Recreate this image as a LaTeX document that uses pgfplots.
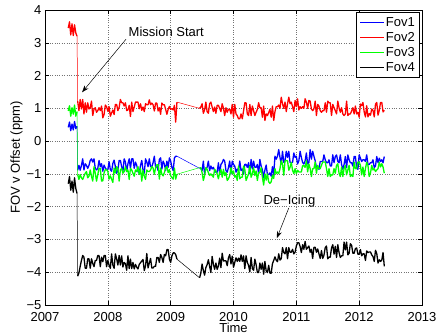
\documentclass[border=0pt]{standalone}
\usepackage{fontspec}
\setmainfont{Liberation Sans}
\usepackage{pgfplots}
\usepackage{pgfplotstable}
\pgfplotsset{compat=1.18}
\usetikzlibrary{arrows.meta}

% FOV offsets (ppm) versus time: t Fov1 Fov2 Fov3 Fov4
% (nan rows separate the pre-launch block and the 2009 data gap)
\pgfplotstableread{
t f1 f2 f3 f4
2007.37 0.42 3.45 0.92 -1.30
2007.39 0.58 3.64 1.08 -1.08
2007.41 0.32 3.24 0.76 -1.50
2007.43 0.52 3.58 1.02 -1.22
2007.45 0.34 3.22 0.82 -1.56
2007.47 0.60 3.55 1.10 -1.12
2007.49 0.38 3.30 0.76 -1.44
2007.51 0.45 3.20 0.90 -1.60
2007.515 nan nan nan nan
2007.52 -0.89 1.22 -1.02 -4.12
2007.54 -0.74 0.93 -1.17 -4.02
2007.56 -0.89 1.27 -1.02 -3.82
2007.58 -0.74 0.98 -1.12 -3.64
2007.60 -0.54 1.27 -1.17 -3.49
2007.62 -0.88 0.83 -1.07 -3.54
2007.64 -0.69 1.17 -0.98 -3.88
2007.66 -0.74 0.88 -0.93 -3.88
2007.68 -0.83 1.17 -1.12 -3.59
2007.70 -0.74 0.98 -1.07 -3.59
2007.72 -0.59 1.02 -0.88 -3.88
2007.74 -0.54 1.22 -1.07 -3.59
2007.76 -0.64 0.78 -1.22 -3.73
2007.78 -0.54 0.98 -0.78 -3.83
2007.80 -0.83 1.02 -0.98 -3.64
2007.82 -0.88 0.88 -1.22 -3.64
2007.84 -0.83 0.93 -1.02 -3.49
2007.86 -0.59 1.02 -0.83 -3.49
2007.88 -0.78 0.93 -0.83 -3.83
2007.90 -0.69 1.07 -1.22 -3.54
2007.92 -0.92 0.71 -1.21 -3.68
2007.94 -0.73 0.81 -0.97 -3.49
2007.96 -0.82 1.10 -0.87 -3.49
2007.98 -0.87 1.05 -0.87 -3.83
2008.00 -0.87 0.91 -0.92 -3.64
2008.02 -0.63 1.05 -1.16 -3.78
2008.04 -0.87 0.76 -1.06 -3.88
2008.06 -0.92 0.86 -1.16 -3.44
2008.08 -0.68 0.95 -1.26 -3.78
2008.10 -0.58 0.81 -0.82 -3.88
2008.12 -0.78 1.12 -0.97 -3.44
2008.14 -0.98 1.12 -0.78 -3.59
2008.16 -0.88 0.93 -0.83 -3.78
2008.18 -0.59 1.03 -1.22 -3.49
2008.20 -0.59 1.27 -0.88 -3.78
2008.22 -0.78 1.17 -0.83 -3.50
2008.24 -0.93 1.17 -0.98 -3.84
2008.26 -0.54 1.07 -0.93 -3.70
2008.28 -0.64 1.17 -0.78 -3.74
2008.30 -0.93 0.93 -0.93 -3.94
2008.32 -0.69 0.95 -0.88 -3.50
2008.34 -0.54 1.09 -1.17 -3.89
2008.36 -0.83 0.75 -0.83 -3.60
2008.38 -0.54 1.19 -0.88 -3.89
2008.40 -0.54 0.90 -0.98 -3.70
2008.42 -0.83 1.04 -1.07 -3.90
2008.44 -0.64 1.19 -0.88 -3.76
2008.46 -0.74 1.19 -0.93 -3.85
2008.48 -0.93 1.19 -0.78 -3.90
2008.50 -0.98 0.99 -1.02 -3.76
2008.52 -0.74 1.14 -0.83 -3.71
2008.54 -0.59 0.94 -1.22 -3.66
2008.56 -0.88 1.04 -0.88 -3.61
2008.58 -0.98 0.90 -1.07 -3.95
2008.60 -0.54 1.14 -1.17 -3.81
2008.62 -0.64 1.11 -0.88 -3.43
2008.64 -0.78 1.11 -0.93 -3.87
2008.66 -0.54 1.26 -0.93 -3.72
2008.68 -0.78 1.11 -0.88 -3.58
2008.70 -0.78 1.16 -0.78 -3.87
2008.72 -0.66 1.11 -0.82 -3.87
2008.74 -0.46 0.92 -1.01 -3.82
2008.76 -0.80 1.16 -0.82 -3.82
2008.78 -0.75 1.16 -0.72 -3.55
2008.80 -0.90 0.92 -0.72 -3.55
2008.82 -0.56 1.02 -1.16 -3.70
2008.84 -0.51 0.82 -0.82 -3.46
2008.86 -0.85 1.16 -1.01 -3.55
2008.88 -0.61 1.11 -1.06 -3.70
2008.90 -0.70 1.11 -0.96 -3.46
2008.92 -0.90 0.97 -0.82 -3.50
2008.94 -0.61 0.82 -0.77 -3.31
2008.96 -0.80 0.97 -0.96 -3.31
2008.98 -0.51 1.06 -0.87 -3.60
2009.00 -0.61 0.97 -1.06 -3.70
2009.02 -0.80 0.99 -1.11 -3.50
2009.04 -0.90 0.95 -1.16 -3.41
2009.06 -0.51 1.09 -0.82 -3.41
2009.08 -0.46 0.58 -1.16 -3.46
2009.10 -0.46 1.19 -1.01 -3.60
2009.28 nan nan nan nan
2009.46 -0.83 1.00 -0.81 -4.17
2009.48 -0.83 1.04 -0.81 -4.03
2009.50 -0.90 1.14 -0.96 -3.75
2009.52 -0.61 0.85 -1.20 -3.94
2009.54 -1.00 0.95 -1.05 -4.09
2009.56 -0.85 1.19 -0.81 -3.86
2009.58 -0.80 0.90 -0.86 -3.77
2009.60 -0.61 0.85 -0.96 -3.62
2009.62 -0.90 1.14 -1.05 -3.82
2009.64 -0.76 1.19 -1.00 -4.01
2009.66 -0.85 1.04 -1.05 -3.52
2009.68 -0.80 0.90 -1.10 -3.76
2009.70 -0.90 1.04 -0.86 -3.91
2009.72 -0.95 0.85 -0.91 -3.72
2009.74 -0.95 1.09 -1.00 -3.91
2009.76 -0.66 1.09 -1.15 -3.81
2009.78 -1.00 1.00 -0.96 -3.57
2009.80 -0.71 0.90 -0.86 -3.86
2009.82 -0.66 1.14 -1.10 -3.42
2009.84 -0.56 1.00 -0.86 -3.66
2009.86 -0.61 0.78 -1.05 -3.65
2009.88 -0.90 1.02 -0.96 -3.65
2009.90 -0.95 0.88 -1.20 -3.80
2009.92 -0.80 0.97 -1.15 -3.56
2009.94 -0.61 0.97 -1.05 -3.46
2009.96 -1.00 0.83 -0.81 -3.75
2009.98 -0.61 1.12 -1.00 -3.51
2010.00 -0.71 0.73 -0.91 -3.85
2010.02 -0.76 1.12 -1.10 -3.70
2010.04 -0.95 0.83 -1.05 -3.56
2010.06 -0.85 0.78 -1.20 -3.67
2010.08 -0.90 0.68 -0.76 -3.57
2010.10 -0.61 0.68 -1.15 -3.67
2010.12 -0.90 0.83 -1.10 -3.47
2010.14 -0.85 0.68 -1.10 -3.67
2010.16 -1.00 0.92 -0.76 -3.50
2010.18 -0.71 1.17 -0.86 -3.89
2010.20 -0.71 1.17 -1.20 -3.50
2010.22 -0.80 0.83 -1.10 -3.70
2010.24 -0.66 0.78 -1.00 -3.79
2010.26 -1.00 1.12 -0.76 -3.99
2010.28 -0.56 0.78 -1.10 -3.55
2010.30 -0.85 1.07 -1.00 -3.89
2010.32 -0.61 0.93 -0.81 -3.94
2010.34 -0.80 0.78 -1.05 -3.60
2010.36 -0.80 0.88 -0.91 -3.77
2010.38 -0.71 0.97 -1.20 -4.01
2010.40 -1.00 1.17 -0.96 -4.01
2010.42 -0.56 1.02 -0.96 -3.72
2010.44 -0.76 1.02 -0.81 -3.91
2010.46 -0.88 0.73 -1.10 -3.72
2010.48 -1.12 1.07 -1.34 -4.06
2010.50 -0.88 0.63 -1.00 -3.67
2010.52 -0.73 0.83 -1.19 -3.96
2010.54 -1.02 0.78 -1.00 -4.01
2010.56 -1.02 0.87 -1.24 -3.79
2010.58 -0.97 0.97 -1.29 -4.03
2010.60 -1.07 0.73 -1.24 -4.03
2010.62 -0.78 1.07 -1.05 -3.74
2010.64 -1.02 0.63 -1.14 -3.64
2010.66 -0.46 0.90 -0.84 -3.53
2010.68 -0.55 1.05 -0.99 -3.63
2010.70 -0.46 1.05 -0.94 -3.68
2010.72 -0.26 1.10 -0.99 -3.44
2010.74 -0.50 1.00 -0.84 -3.63
2010.76 -0.70 1.34 -0.60 -3.59
2010.78 -0.31 1.14 -0.70 -3.25
2010.80 -0.65 1.00 -1.04 -3.40
2010.82 -0.60 1.19 -0.60 -3.44
2010.84 -0.31 0.90 -0.60 -3.25
2010.86 -0.50 1.14 -0.60 -3.59
2010.88 -0.31 1.34 -0.89 -3.25
2010.90 -0.65 1.14 -0.80 -3.39
2010.92 -0.65 1.19 -0.65 -3.39
2010.94 -0.65 1.05 -0.89 -3.30
2010.96 -0.36 0.90 -0.99 -3.44
2010.98 -0.50 1.24 -0.84 -3.39
2011.00 -0.46 1.05 -0.99 -3.20
2011.02 -0.70 1.29 -0.89 -3.10
2011.04 -0.60 0.95 -0.94 -3.10
2011.06 -0.31 1.05 -0.94 -3.21
2011.08 -0.50 1.00 -0.94 -3.40
2011.10 -0.65 1.05 -0.75 -3.16
2011.12 -0.70 1.00 -0.75 -3.30
2011.14 -0.60 1.29 -0.80 -3.06
2011.16 -0.36 1.19 -0.60 -3.30
2011.18 -0.70 1.00 -0.94 -3.25
2011.20 -0.65 1.24 -0.70 -3.20
2011.22 -0.26 1.22 -0.84 -3.39
2011.24 -0.55 0.98 -1.08 -3.30
2011.26 -0.31 0.93 -0.84 -3.58
2011.28 -0.46 0.98 -0.84 -3.24
2011.30 -0.60 1.22 -0.64 -3.24
2011.32 -0.81 0.78 -0.98 -3.39
2011.34 -0.81 1.12 -0.74 -3.29
2011.36 -0.86 1.07 -0.84 -3.44
2011.38 -0.62 0.93 -0.84 -3.58
2011.40 -0.62 0.88 -0.74 -3.34
2011.42 -0.62 0.93 -0.64 -3.58
2011.44 -0.42 0.93 -0.64 -3.48
2011.46 -0.57 1.17 -0.64 -3.25
2011.48 -0.66 0.88 -0.84 -3.20
2011.50 -0.66 1.22 -1.08 -3.59
2011.52 -0.57 1.17 -0.84 -3.54
2011.54 -0.76 1.17 -1.08 -3.54
2011.56 -0.76 0.78 -1.03 -3.26
2011.58 -0.42 1.12 -1.03 -3.16
2011.60 -0.66 1.02 -0.84 -3.45
2011.62 -0.47 0.93 -0.98 -3.21
2011.64 -0.42 0.83 -0.74 -3.55
2011.66 -0.62 1.22 -0.69 -3.16
2011.68 -0.66 1.02 -0.98 -3.40
2011.70 -0.42 0.88 -1.08 -3.55
2011.72 -0.71 1.02 -0.79 -3.50
2011.74 -0.86 0.83 -1.08 -3.50
2011.76 -0.71 0.78 -0.84 -3.08
2011.78 -0.47 0.83 -0.74 -3.32
2011.80 -0.81 1.22 -1.03 -3.08
2011.82 -0.42 0.78 -0.88 -3.47
2011.84 -0.57 0.83 -0.74 -3.42
2011.86 -0.66 0.83 -1.08 -3.13
2011.88 -0.66 0.92 -1.03 -3.18
2011.90 -0.76 1.02 -1.08 -3.42
2011.92 -0.47 0.83 -0.64 -3.42
2011.94 -0.47 1.07 -0.84 -3.28
2011.96 -0.81 0.83 -0.84 -3.26
2011.98 -0.86 0.88 -0.64 -3.45
2012.00 -0.42 0.73 -0.64 -3.45
2012.02 -0.52 1.13 -0.74 -3.31
2012.04 -0.62 1.08 -1.03 -3.50
2012.06 -0.57 1.18 -0.79 -3.44
2012.08 -0.57 0.89 -1.08 -3.44
2012.10 -0.62 0.74 -0.84 -3.64
2012.12 -0.42 1.08 -0.64 -3.35
2012.14 -0.71 0.74 -0.74 -3.40
2012.16 -0.71 0.84 -1.08 -3.38
2012.18 -0.66 0.79 -0.98 -3.38
2012.20 -0.66 0.98 -0.74 -3.47
2012.22 -0.57 0.94 -0.88 -3.52
2012.24 -0.81 0.74 -0.84 -3.67
2012.26 -0.76 1.13 -0.93 -3.33
2012.28 -0.47 1.18 -0.88 -3.43
2012.30 -0.66 0.79 -0.84 -3.72
2012.32 -0.52 0.94 -0.64 -3.62
2012.34 -0.62 1.18 -0.79 -3.67
2012.36 -0.57 1.18 -0.69 -3.63
2012.38 -0.66 0.89 -0.79 -3.40
2012.40 -0.47 0.94 -0.98 -3.82
}\fovdata

\newcommand{\chartfont}{\fontsize{13bp}{15bp}\selectfont}
\definecolor{fovblue}{rgb}{0,0,1}
\definecolor{fovred}{rgb}{1,0,0}
\definecolor{fovgreen}{rgb}{0,1,0}

\begin{document}
\begin{tikzpicture}
\begin{axis}[
  scale only axis,
  width=377bp, height=295bp,
  xmin=2007, xmax=2013, ymin=-5, ymax=4,
  xtick={2007,2008,2009,2010,2011,2012,2013},
  xticklabels={2007,2008,2009,2010,2011,2012,2013},
  ytick={-5,-4,-3,-2,-1,0,1,2,3,4},
  yticklabels={−5,−4,−3,−2,−1,0,1,2,3,4},
  /pgf/number format/assume math mode=true,
  tick align=inside,
  major tick length=4bp,
  tick style={black, line width=0.5pt},
  grid=major,
  major grid style={dotted, black!55, line width=0.5pt},
  axis line style={black, line width=0.6pt},
  tick label style={font=\chartfont},
  xticklabel style={yshift=-3.5bp},
  label style={font=\chartfont},
  xlabel={Time},
  ylabel={FOV v Offset (ppm)},
  xlabel style={at={(axis description cs:0.5,-0.0949)}, anchor=base},
  ylabel style={at={(axis description cs:-0.0753,0.5)}, anchor=center},
  unbounded coords=jump,
  every axis plot/.append style={line width=1.3pt, line join=round},
  legend cell align=left,
  legend style={font=\chartfont, at={(1,1)}, anchor=north east,
    xshift=-2bp, yshift=-2bp, draw=black, line width=1.3pt,
    inner xsep=3bp, inner ysep=2.5bp,
    nodes={inner sep=1.5bp, text height=9.5bp, text depth=2.5bp}},
  legend image code/.code={\draw[#1, line width=0.8pt] (0bp,0bp) -- (24bp,0bp);},
  link/.style={line width=0.5pt, forget plot},
]
\addplot[fovblue] table[x=t, y=f1] {\fovdata};
\addlegendentry{Fov1}
\addplot[fovblue, link] coordinates {(2007.51,0.45) (2007.52,-0.89)};
\addplot[fovblue, link] coordinates {(2009.10,-0.46) (2009.46,-0.83)};
\addplot[fovred] table[x=t, y=f2] {\fovdata};
\addlegendentry{Fov2}
\addplot[fovred, link] coordinates {(2007.51,3.20) (2007.52,1.22)};
\addplot[fovred, link] coordinates {(2009.10,1.19) (2009.46,1.00)};
\addplot[fovgreen] table[x=t, y=f3] {\fovdata};
\addlegendentry{Fov3}
\addplot[fovgreen, link] coordinates {(2007.51,0.90) (2007.52,-1.02)};
\addplot[fovgreen, link] coordinates {(2009.10,-1.01) (2009.46,-0.81)};
\addplot[black] table[x=t, y=f4] {\fovdata};
\addlegendentry{Fov4}
\addplot[black, link] coordinates {(2007.51,-1.60) (2007.52,-4.12)};
\addplot[black, link] coordinates {(2009.10,-3.60) (2009.46,-4.17)};

\node[font=\chartfont, anchor=base] at (axis cs:2008.93,3.20) {Mission Start};
\draw[-{Stealth[length=7bp,width=5bp]}, line width=0.5pt]
  (axis cs:2008.29,3.11) -- (axis cs:2007.59,1.49);
\node[font=\chartfont, anchor=base] at (axis cs:2010.89,-1.92) {De−Icing};
\draw[-{Stealth[length=7bp,width=5bp]}, line width=0.5pt]
  (axis cs:2010.88,-2.04) -- (axis cs:2010.69,-2.96);
\end{axis}
\pgfresetboundingbox
\path (current axis.south west) ++(-45bp,-30bp) rectangle ++(438bp,335bp);
\end{tikzpicture}
\end{document}
